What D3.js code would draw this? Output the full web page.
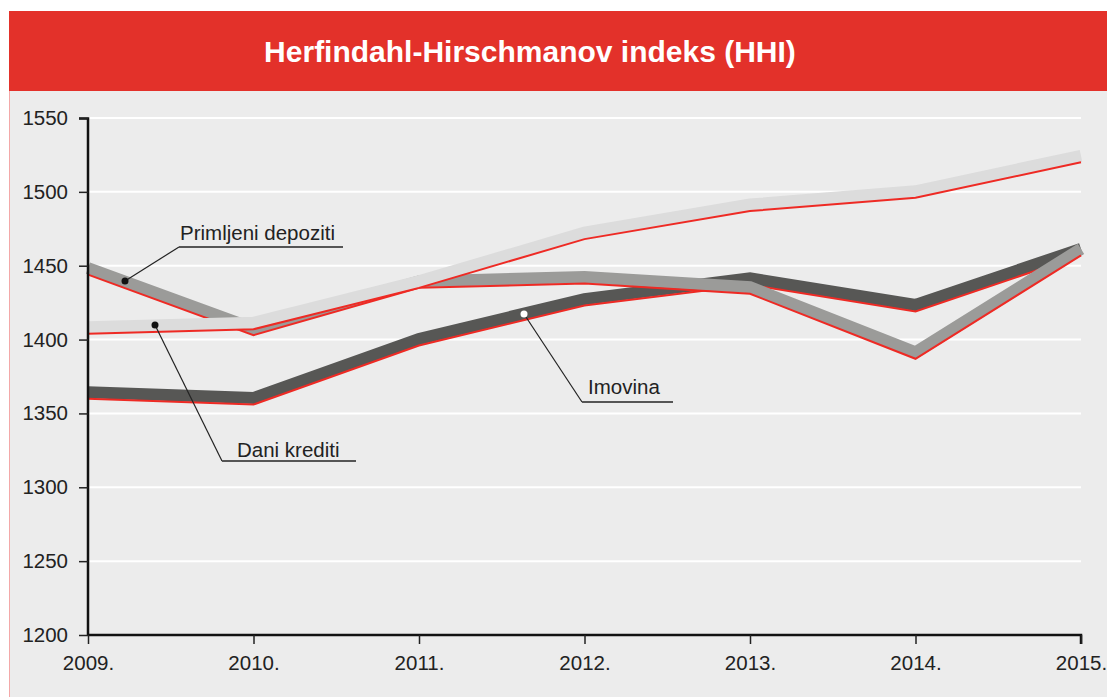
<!DOCTYPE html>
<html><head><meta charset="utf-8">
<script src="https://cdn.jsdelivr.net/npm/d3@7"></script>
<style>body{margin:0;background:#fff;}svg{display:block;font-family:"Liberation Sans",Arial,sans-serif;}</style>
</head><body><svg id="c" width="1107" height="697"></svg>
<script>
const years = ["2009.","2010.","2011.","2012.","2013.","2014.","2015."];
const yTicks = [1200,1250,1300,1350,1400,1450,1500,1550];
const imovina = [1360,1356,1396,1423,1437,1419,1457];
const depoziti = [1444,1403,1435,1438,1431,1387,1457];
const krediti = [1404,1407,1435,1468,1487,1496,1520];
const title = "Herfindahl-Hirschmanov indeks (HHI)";

const svg = d3.select("#c");
// panel
svg.append("rect").attr("x",9).attr("y",91).attr("width",1098).attr("height",606).attr("fill","#ececec");
svg.append("line").attr("x1",9.5).attr("x2",9.5).attr("y1",91).attr("y2",697).attr("stroke","#f3a8a8").attr("stroke-width",1);
svg.append("rect").attr("x",9).attr("y",11).attr("width",1098).attr("height",80).attr("fill","#e3312a");
svg.append("text").attr("x",530).attr("y",62).attr("text-anchor","middle").attr("fill","#fff")
  .attr("font-size",30).attr("font-weight","bold").text(title);

const x = d3.scalePoint().domain(years).range([88,1081]);
const y = d3.scaleLinear().domain([1200,1550]).range([635,118]);

// grid
svg.append("g").selectAll("line").data(yTicks.filter(d=>d>1200)).join("line")
  .attr("x1",88).attr("x2",1081).attr("y1",d=>y(d)).attr("y2",d=>y(d))
  .attr("stroke","#fff").attr("stroke-width",2);

const line = d3.line().x((d,i)=>x(years[i])).y(d=>y(d));
const series = [
  {v:imovina, c:"#575755"},
  {v:depoziti, c:"#9b9b99"},
  {v:krediti, c:"#dcdcdc"}
];
series.forEach(s=>{
  svg.append("path").datum(s.v).attr("d",line).attr("fill","none").attr("stroke",s.c)
    .attr("stroke-width",12).attr("stroke-linejoin","miter").attr("transform","translate(0,-6.5)");
  svg.append("path").datum(s.v).attr("d",line).attr("fill","none").attr("stroke","#ee2a24")
    .attr("stroke-width",2);
});

// axes
const ya = svg.append("g").attr("transform","translate(88,0)")
  .call(d3.axisLeft(y).tickValues(yTicks).tickSize(9).tickPadding(11).tickFormat(d3.format("d")));
const xa = svg.append("g").attr("transform","translate(0,635)")
  .call(d3.axisBottom(x).tickSize(9).tickPadding(11));
[ya,xa].forEach(a=>{
  a.attr("font-size",20.5).attr("font-family","Liberation Sans, Arial, sans-serif");
  a.select(".domain").attr("stroke","#111").attr("stroke-width",2.5);
  a.selectAll(".tick line").attr("stroke","#222").attr("stroke-width",1.5);
  a.selectAll("text").attr("fill","#222");
});
ya.select(".domain").attr("d","M-9,118.5H0V635");
xa.select(".domain").attr("d","M88,0H1081V9");

// annotations
function annot(dot, elbow, end, label, tx, ty, dotFill){
  svg.append("polyline").attr("points",[dot,elbow].map(p=>p.join(",")).join(" "))
    .attr("fill","none").attr("stroke","#222").attr("stroke-width",1.2);
  svg.append("line").attr("x1",elbow[0]).attr("x2",end[0]).attr("y1",elbow[1]).attr("y2",end[1])
    .attr("stroke","#555").attr("stroke-width",2);
  svg.append("circle").attr("cx",dot[0]).attr("cy",dot[1]).attr("r",3.5).attr("fill",dotFill);
  svg.append("text").attr("x",tx).attr("y",ty).attr("font-size",20.5).attr("fill","#222").text(label);
}
annot([125,281],[179,247],[343,247],"Primljeni depoziti",180,240,"#111");
annot([155,325],[222,461],[356,461],"Dani krediti",237,457,"#111");
annot([524,314],[582,402],[673,402],"Imovina",588,394,"#fff");
</script></body></html>
